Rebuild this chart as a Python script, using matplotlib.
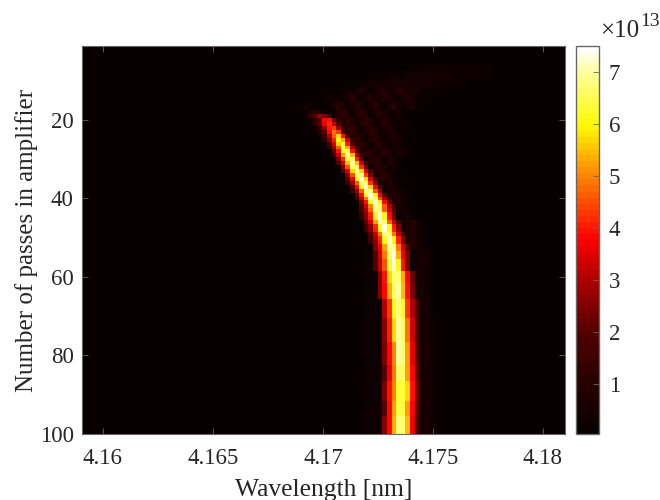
import numpy as np
import matplotlib
matplotlib.use('Agg')
import matplotlib.pyplot as plt
from matplotlib.colors import LinearSegmentedColormap

plt.rcParams['font.family'] = ['Liberation Serif', 'DejaVu Serif']

# grid of the picture
n_passes = 100
n_cols = 105
wl_start = 4.15905
wl_step = 0.00021

# bright ridge, values in units of 1e13
ridge_first_pass = [19, 20, 21, 22, 23, 24, 25, 26, 27, 28, 29, 30, 31, 32, 33, 34, 35, 36, 37, 38,
                    39, 40, 41, 42, 43, 44, 45, 46, 47, 48, 49, 50, 51, 52, 54, 56, 59, 62, 66, 71,
                    77, 83, 87, 92, 96]
ridge_last_pass = [19, 20, 21, 22, 23, 24, 25, 26, 27, 28, 29, 30, 31, 32, 33, 34, 35, 36, 37, 38,
                   39, 40, 41, 42, 43, 44, 45, 46, 47, 48, 49, 50, 51, 53, 55, 58, 61, 65, 70, 76,
                   82, 86, 91, 95, 100]
ridge_first_col = [49, 50, 50, 51, 51, 52, 52, 53, 53, 54, 54, 55, 55, 56, 56, 57, 57, 57, 58, 58,
                   59, 59, 60, 60, 60, 60, 60, 61, 61, 61, 62, 62, 62, 63, 63, 63, 64, 64, 65, 65,
                   65, 65, 65, 65, 65]
ridge_values = [
    [1.3, 2.0, 2.8, 2.4, 1.5],
    [1.3, 2.0, 3.8, 3.9, 2.4, 1.3],
    [1.3, 2.0, 3.6, 4.2, 3.3, 1.8],
    [1.5, 2.7, 4.1, 4.3, 2.8, 1.3],
    [1.1, 2.0, 3.8, 4.9, 4.3, 2.0, 1.1],
    [1.5, 3.0, 4.7, 5.7, 3.9, 1.8],
    [1.1, 2.4, 4.1, 6.0, 5.4, 3.2, 1.5],
    [1.8, 3.4, 5.7, 6.3, 4.1, 2.0],
    [1.3, 2.8, 4.7, 6.6, 5.4, 3.0, 1.5],
    [2.0, 3.9, 6.3, 6.4, 3.9, 1.9],
    [1.5, 3.2, 5.2, 7.0, 5.5, 3.0, 1.5],
    [2.4, 4.2, 6.4, 6.6, 4.1, 2.0],
    [1.8, 3.4, 5.5, 7.0, 5.5, 3.2, 1.5],
    [2.6, 4.5, 6.6, 6.6, 4.2, 2.4],
    [1.8, 3.4, 5.7, 7.0, 5.7, 3.4, 1.8],
    [2.6, 4.5, 6.8, 6.8, 4.3, 2.4],
    [1.9, 3.6, 6.0, 7.3, 5.7, 3.4, 1.8],
    [1.3, 2.8, 4.6, 6.8, 6.8, 4.3, 2.6],
    [2.0, 3.8, 6.1, 7.3, 5.7, 3.6, 2.0],
    [1.5, 2.8, 4.7, 6.8, 6.8, 4.5, 2.8],
    [2.0, 3.8, 6.1, 7.3, 6.0, 3.8, 2.0],
    [1.7, 3.0, 4.9, 7.0, 6.6, 4.5, 2.8, 1.5],
    [2.4, 3.9, 6.2, 7.3, 6.0, 3.8, 2.2],
    [1.8, 3.2, 5.0, 7.0, 6.6, 4.6, 3.0, 1.7],
    [1.7, 3.0, 4.7, 6.8, 6.8, 4.7, 3.2, 1.8],
    [1.3, 2.5, 4.1, 6.2, 7.3, 6.0, 3.8, 2.2],
    [1.3, 2.4, 3.9, 6.0, 7.3, 6.1, 3.9, 2.4],
    [2.0, 3.4, 5.2, 7.0, 6.8, 4.7, 3.2, 1.8],
    [1.5, 2.7, 4.2, 6.2, 7.3, 6.0, 3.9, 2.4],
    [1.5, 2.6, 4.1, 6.0, 7.3, 6.2, 4.1, 2.5],
    [2.0, 3.3, 4.9, 6.8, 6.8, 4.9, 3.3, 2.0],
    [1.7, 2.8, 4.2, 6.2, 7.3, 6.0, 4.1, 2.6],
    [1.5, 2.6, 4.1, 6.1, 7.3, 6.1, 4.1, 2.6],
    [2.4, 3.6, 5.2, 7.0, 7.0, 4.9, 3.4, 2.0],
    [2.0, 3.4, 4.9, 6.6, 7.3, 5.4, 3.6, 2.4],
    [1.8, 3.2, 4.5, 6.3, 7.3, 6.0, 3.9, 2.4],
    [2.6, 3.9, 5.7, 6.8, 6.8, 5.4, 3.8, 2.2],
    [2.4, 3.8, 5.4, 6.6, 7.0, 5.5, 3.9, 2.4],
    [3.0, 4.3, 6.2, 6.8, 6.2, 4.3, 3.0, 1.8],
    [2.6, 4.1, 5.7, 7.0, 6.6, 4.9, 3.4, 2.0],
    [2.4, 3.8, 5.0, 7.0, 6.8, 5.2, 3.6, 2.0],
    [2.0, 3.6, 4.9, 6.6, 6.6, 5.2, 3.8, 2.2],
    [2.4, 3.9, 5.0, 6.3, 6.4, 5.7, 3.9, 2.4],
    [2.0, 3.8, 5.2, 6.4, 6.4, 5.2, 3.8, 2.2],
    [2.5, 3.8, 5.4, 6.8, 6.8, 5.5, 3.6, 2.0],
]

# faint fringes: one digit per column from faint_first_col on, in units of 2e12
faint_first_col = 44
faint_first_pass = [6, 8, 10, 12, 14, 16, 18, 20, 22, 24, 26, 28, 30, 32, 34, 36, 38, 40, 42, 44, 46, 53, 71]
faint_last_pass = [7, 9, 11, 13, 15, 17, 19, 21, 23, 25, 27, 29, 31, 33, 35, 37, 39, 41, 43, 45, 52, 70, 100]
faint_rows = [
    "000000000000000000000000000001111111111111111",
    "00000000000000000000001111222222222211111111",
    "000000000000000011222233333222221111111",
    "000000000000121242124422442331111",
    "0000000012111353134324321343111",
    "00013100013531353135313531231",
    "00001464111464146413531121",
    "000001344441464146413531121",
    "000000000000046414641343111",
    "00000000000000464145313431",
    "00000000000000046414531231",
    "000000000000000035533541231",
    "0000000000000000004541431",
    "0000000000000000000454131",
    "00000000000000000000454111",
    "0000000000000000000003431",
    "00000000000000000000003431",
    "000000000000000000000003431",
    "000000000000000000000000231",
    "0000000000000000000000000231",
    "000000000000000000000000013431",
    "00000000000000000111000000012321",
    "000000000000000001111000000012321",
]

# colours, value in units of 1e13
cmap_values = [0.04, 1, 2, 3, 3.8, 5, 6, 7, 7.5]
cmap_colors = ['#080000', '#280000', '#550000', '#af0000', '#ff0000', '#ff8200', '#fffa00', '#ffff96', '#ffffff']

# axis and colorbar ticks
x_ticks = [4.16, 4.165, 4.17, 4.175, 4.18]
x_labels = ['4.16', '4.165', '4.17', '4.175', '4.18']
y_ticks = [20, 40, 60, 80, 100]
cbar_ticks = [1, 2, 3, 4, 5, 6, 7]

# fill the grid from the tables above
grid = np.zeros((n_passes, n_cols))
for first, last, row in zip(faint_first_pass, faint_last_pass, faint_rows):
    vals = np.array([int(ch) for ch in row]) * 0.2
    grid[first - 1:last, faint_first_col:faint_first_col + len(vals)] = vals
for first, last, col, vals in zip(ridge_first_pass, ridge_last_pass, ridge_first_col, ridge_values):
    part = grid[first - 1:last, col:col + len(vals)]
    grid[first - 1:last, col:col + len(vals)] = np.maximum(part, vals)

wl_edges = wl_start + wl_step * np.arange(n_cols + 1)
pass_edges = np.arange(n_passes + 1) + 0.5

vmin, vmax = cmap_values[0], cmap_values[-1]
stops = [(v - vmin) / (vmax - vmin) for v in cmap_values]
cmap = LinearSegmentedColormap.from_list('ref_hot', list(zip(stops, cmap_colors)), N=64)

fig = plt.figure(figsize=(6.6, 5.0), dpi=100)
ax = fig.add_axes([82 / 660, 66 / 500, 483 / 660, 388 / 500])
cax = fig.add_axes([576 / 660, 66 / 500, 23 / 660, 388 / 500])

mesh = ax.pcolormesh(wl_edges, pass_edges, grid * 1e13, cmap=cmap, vmin=vmin * 1e13, vmax=vmax * 1e13)
ax.set_xlim(4.15905, 4.181)
ax.set_ylim(100, 1.15)
ax.set_xticks(x_ticks)
ax.set_xticklabels(x_labels)
ax.set_yticks(y_ticks)
ax.tick_params(direction='in', top=True, right=True, length=4, width=0.6, color='#666666',
               labelsize=16.5, labelcolor='#262626')
ax.tick_params(axis='x', pad=10)
ax.tick_params(axis='y', pad=6)
ax.set_xlabel('Wavelength [nm]', fontsize=18.4, color='#262626', labelpad=7)
ax.set_ylabel('Number of passes in amplifier', fontsize=18, color='#262626', labelpad=1)
for s in ax.spines.values():
    s.set_color('#666666')
    s.set_linewidth(0.8)

cb = fig.colorbar(mesh, cax=cax)
cb.set_ticks([v * 1e13 for v in cbar_ticks])
cb.set_ticklabels([str(v) for v in cbar_ticks])
cb.ax.tick_params(direction='in', length=4, width=0.6, color='#666666', labelsize=16.5,
                  labelcolor='#262626', pad=7)
cb.outline.set_edgecolor('#666666')
cb.outline.set_linewidth(1.0)
fig.text(600 / 660, 1 - 31 / 500, '\u00d710', fontsize=18, color='#262626', va='center')
fig.text(640 / 660, 1 - 22 / 500, '13', fontsize=14, color='#262626', va='center')

fig.savefig('out.png', dpi=100)
